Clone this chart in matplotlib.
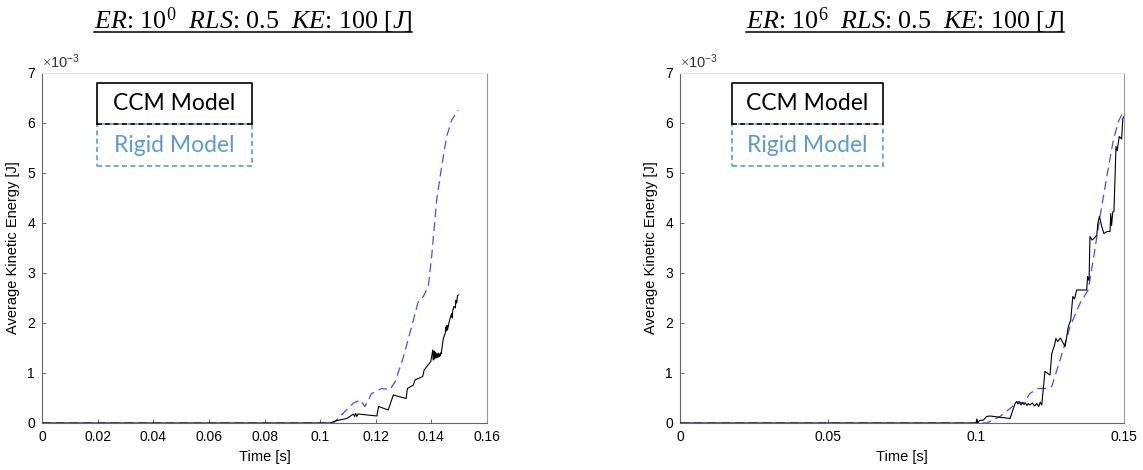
import matplotlib
matplotlib.use("Agg")
import matplotlib.pyplot as plt
from matplotlib.patches import Rectangle
from matplotlib.lines import Line2D

plt.rcParams['font.family'] = ['Liberation Sans', 'DejaVu Sans']
plt.rcParams['mathtext.fontset'] = 'custom'
plt.rcParams['mathtext.rm'] = 'Liberation Serif'
plt.rcParams['mathtext.it'] = 'Liberation Serif:italic'
plt.rcParams['mathtext.sf'] = 'Liberation Sans'

# ---- data (time in s, energy in units of 1e-3 J) ----
left_rigid_t = [0.0, 0.1048, 0.108, 0.112, 0.1144, 0.1161, 0.1185, 0.1221, 0.1251, 0.127,
                0.130, 0.1329, 0.1353, 0.1371, 0.1389, 0.1401, 0.1419, 0.1437, 0.1455,
                0.1473, 0.1497]
left_rigid_e = [0.0, 0.0, 0.18, 0.40, 0.46, 0.33, 0.59, 0.69, 0.67, 0.83,
                1.33, 1.93, 2.43, 2.53, 2.73, 3.33, 4.46, 5.13, 5.73,
                6.06, 6.26]

left_ccm_t = [0.0, 0.1036, 0.1060, 0.1096, 0.1120, 0.1124, 0.1128, 0.1132, 0.1136, 0.1204,
              0.1210, 0.1245, 0.1263, 0.1309, 0.1314, 0.1335, 0.1341, 0.1369, 0.1374,
              0.1398, 0.1405, 0.1407, 0.1409, 0.1411, 0.1413, 0.1415, 0.1417, 0.1419,
              0.1421, 0.1423, 0.1425, 0.1427, 0.1429, 0.1431, 0.1433, 0.1435, 0.1443,
              0.1450, 0.1452, 0.1454, 0.1456, 0.1458, 0.1465, 0.1473, 0.1475, 0.1477,
              0.1481, 0.1486, 0.1488, 0.1491, 0.1494, 0.1497]
left_ccm_e = [0.0, 0.0, 0.05, 0.09, 0.18, 0.13, 0.19, 0.13, 0.18, 0.14,
              0.33, 0.26, 0.56, 0.49, 0.69, 0.76, 0.86, 0.93, 1.06,
              1.23, 1.46, 1.26, 1.44, 1.28, 1.42, 1.30, 1.40, 1.30,
              1.38, 1.32, 1.40, 1.32, 1.38, 1.34, 1.40, 1.38, 1.69,
              1.80, 1.92, 1.84, 1.95, 1.86, 2.05, 2.19, 2.10, 2.25,
              2.33, 2.30, 2.45, 2.40, 2.55, 2.56]

right_rigid_t = [0.0, 0.1036, 0.1081, 0.1115, 0.1143, 0.116, 0.1182, 0.121, 0.1233, 0.1256,
                 0.1284, 0.1318, 0.1351, 0.1379, 0.1396, 0.1419, 0.1442, 0.1464, 0.1481,
                 0.1498]
right_rigid_e = [0.0, 0.0, 0.13, 0.29, 0.43, 0.39, 0.59, 0.69, 0.69, 0.73,
                 1.26, 1.93, 2.39, 2.66, 3.26, 4.13, 4.93, 5.66, 6.03,
                 6.23]

right_ccm_t = [0.0, 0.1000, 0.1003, 0.1006, 0.1012, 0.1025, 0.1036, 0.1047, 0.1115, 0.1132,
               0.1137, 0.1142, 0.1147, 0.1152, 0.1157, 0.1162, 0.1167, 0.1172, 0.1177,
               0.1182, 0.1190, 0.1198, 0.1205, 0.1212, 0.1217, 0.1222, 0.1233, 0.1250,
               0.1256, 0.1265, 0.1270, 0.1276, 0.1285, 0.1301, 0.1312, 0.1320, 0.1327,
               0.1333, 0.1340, 0.1374, 0.1377, 0.1382, 0.1385, 0.1392, 0.1400, 0.1408,
               0.1412, 0.1417, 0.1424, 0.1432, 0.1443, 0.1453, 0.1455, 0.1458, 0.1462,
               0.1466, 0.1473, 0.1477, 0.1484, 0.1492, 0.1496, 0.1500]
right_ccm_e = [0.0, 0.0, 0.08, 0.0, 0.05, 0.06, 0.13, 0.14, 0.09, 0.39,
               0.43, 0.38, 0.42, 0.36, 0.41, 0.37, 0.40, 0.35, 0.39,
               0.36, 0.40, 0.34, 0.39, 0.33, 0.42, 0.36, 1.03, 0.96,
               1.39, 1.55, 1.69, 1.63, 1.70, 1.53, 1.93, 2.06, 2.53,
               2.48, 2.66, 2.66, 2.93, 2.85, 3.73, 3.66, 3.70, 3.76,
               4.00, 4.13, 3.95, 3.79, 3.83, 3.83, 4.19, 3.95, 4.22,
               4.23, 5.53, 5.45, 5.73, 5.68, 6.09, 6.13]

titles = [r'$ER$: 10$^0$  $RLS$: 0.5  $KE$: 100 [$J$]',
          r'$ER$: 10$^6$  $RLS$: 0.5  $KE$: 100 [$J$]']
legend_labels = ['CCM Model', 'Rigid Model']
left_xticks = [0, 0.02, 0.04, 0.06, 0.08, 0.1, 0.12, 0.14, 0.16]
left_xticklabels = ['0', '0.02', '0.04', '0.06', '0.08', '0.1', '0.12', '0.14', '0.16']
right_xticks = [0, 0.05, 0.1, 0.15]
right_xticklabels = ['0', '0.05', '0.1', '0.15']
yticks = [0, 1, 2, 3, 4, 5, 6, 7]

W, H = 1143, 470
fig = plt.figure(figsize=(W / 100, H / 100), dpi=100)


def fx(px):
    return px / W


def fy(py):
    return 1 - py / H


rigid_color = '#4a4aff'
box_blue = '#5b9bd5'


def make_axes(x0, x1, xmax, xticks, xticklabels, rigid_t, rigid_e, ccm_t, ccm_e):
    ax = fig.add_axes([fx(x0), fy(423), fx(x1) - fx(x0), fy(73) - fy(423)])
    ax.plot(rigid_t, rigid_e, color=rigid_color, lw=0.9, dashes=(7, 4), zorder=2)
    ax.plot(ccm_t, ccm_e, color='black', lw=0.8, zorder=3)
    ax.set_xlim(0, xmax)
    ax.set_ylim(0, 7)
    ax.set_xticks(xticks)
    ax.set_xticklabels(xticklabels)
    ax.set_yticks(yticks)
    ax.tick_params(direction='in', length=3, width=0.6, colors='#555555',
                   labelcolor='black', labelsize=10, pad=5)
    for s in ('left', 'bottom'):
        ax.spines[s].set_color('#666666')
        ax.spines[s].set_linewidth(0.8)
    ax.spines['right'].set_color('#999999')
    ax.spines['right'].set_linewidth(0.8)
    ax.spines['top'].set_color('#e6e6e6')
    ax.spines['top'].set_linewidth(0.8)
    ax.set_xlabel('Time [s]', fontsize=10.5, labelpad=4)
    ax.set_ylabel('Average Kinetic Energy [J]', fontsize=10.5, labelpad=5)
    ax.text(0.0, 1.005, r'$\times\mathsf{10^{-3}}$', transform=ax.transAxes,
            fontsize=10.5, ha='left', va='bottom', color='#333333')
    return ax


axL = make_axes(42, 487, 0.16, left_xticks, left_xticklabels,
                left_rigid_t, left_rigid_e, left_ccm_t, left_ccm_e)
axR = make_axes(680, 1124, 0.15, right_xticks, right_xticklabels,
                right_rigid_t, right_rigid_e, right_ccm_t, right_ccm_e)

# titles with underline
title_centers = [253, 905]
title_texts = []
for cx, t in zip(title_centers, titles):
    title_texts.append(fig.text(fx(cx), fy(29), t, fontsize=18.7, ha='center',
                                va='baseline', color='black',
                                fontfamily='Liberation Serif'))

fig.canvas.draw()
renderer = fig.canvas.get_renderer()
for tt in title_texts:
    bb = tt.get_window_extent(renderer=renderer)
    yline = fy(32)
    fig.add_artist(Line2D([bb.x0 / W, bb.x1 / W], [yline, yline],
                          transform=fig.transFigure, color='black', lw=1.1))

# legend boxes
for bx0, bx1 in [(96.7, 251.7), (732.3, 882.7)]:
    rig = Rectangle((fx(bx0), fy(165.7)), fx(bx1) - fx(bx0), fy(124.3) - fy(165.7),
                    transform=fig.transFigure, fill=False, edgecolor=box_blue,
                    lw=1.2, linestyle=(0, (3, 2)))
    fig.add_artist(rig)
    # CCM box: solid top and sides, dashed bottom edge
    xs = [fx(bx0), fx(bx0), fx(bx1), fx(bx1)]
    ys = [fy(124.3), fy(82.7), fy(82.7), fy(124.3)]
    fig.add_artist(Line2D(xs, ys, transform=fig.transFigure, color='black', lw=1.2))
    fig.add_artist(Line2D([fx(bx0), fx(bx1)], [fy(124.3), fy(124.3)],
                          transform=fig.transFigure, color='black', lw=1.2,
                          linestyle=(0, (3, 2))))
    cx = (bx0 + bx1) / 2
    fig.text(fx(cx), fy(103.5), legend_labels[0], fontsize=16.5, ha='center',
             va='center', color='black', fontfamily='Lato')
    fig.text(fx(cx), fy(145), legend_labels[1], fontsize=16.5, ha='center',
             va='center', color=box_blue, fontfamily='Lato')

fig.savefig('out.png', dpi=100)
